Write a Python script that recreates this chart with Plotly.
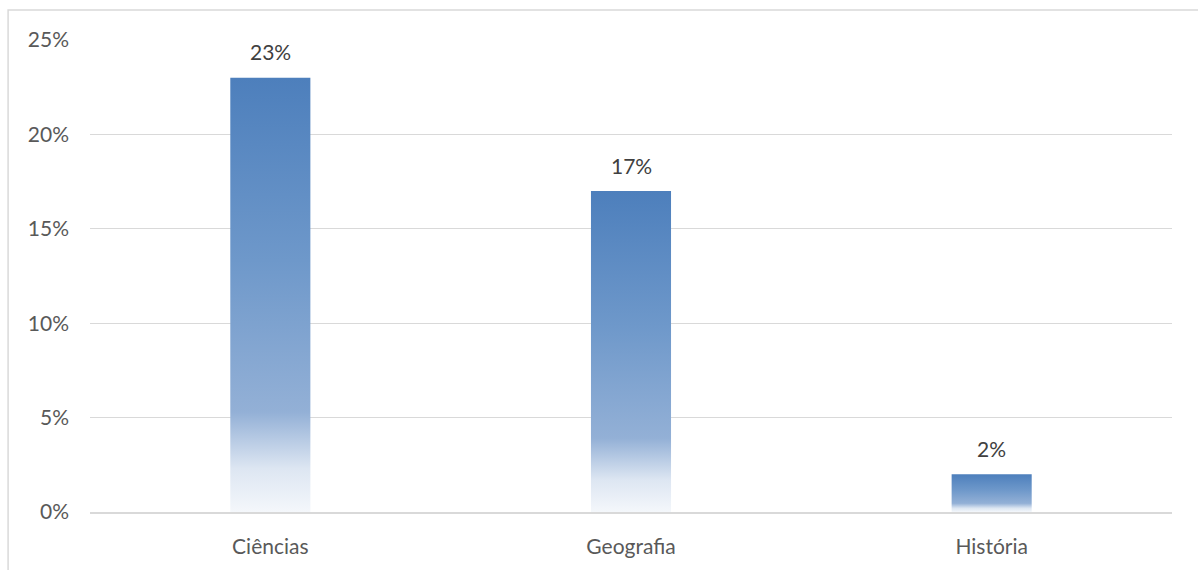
import plotly.graph_objects as go

categories = ["Ciências", "Geografia", "História"]
values = [0.23, 0.17, 0.02]
labels = ["23%", "17%", "2%"]
y_ticks = [0, 0.05, 0.10, 0.15, 0.20, 0.25]

BAR_HALF = 0.111
FONT = "Lato, 'Open Sans', sans-serif"
gradient = [[0.0, "#f4f7fb"], [0.1, "#dde6f2"], [0.23, "#93b0d6"],
            [0.58, "#6e98ca"], [1.0, "#4d7fbc"]]

fig = go.Figure()
for i, v in enumerate(values):
    fig.add_trace(go.Scatter(
        x=[i - BAR_HALF, i + BAR_HALF, i + BAR_HALF, i - BAR_HALF, i - BAR_HALF],
        y=[0, 0, v, v, 0],
        mode="lines", line=dict(width=0), fill="toself",
        fillgradient=dict(type="vertical", colorscale=gradient),
        hoverinfo="skip", showlegend=False,
    ))

annotations = [
    dict(x=i, y=v, xref="x", yref="y", text=t, showarrow=False,
         yshift=26, yanchor="middle",
         font=dict(family=FONT, size=21, color="#404040"))
    for i, (v, t) in enumerate(zip(values, labels))
]

fig.update_layout(
    width=1198, height=570,
    margin=dict(l=90, r=26, t=40, b=56),
    paper_bgcolor="white", plot_bgcolor="white",
    font=dict(family=FONT, size=21, color="#595959"),
    annotations=annotations,
    shapes=[dict(type="rect", xref="paper", yref="paper",
                 x0=-0.0757, x1=1.2, y0=-0.3, y1=1.0633,
                 line=dict(color="#d9d9d9", width=1.5), layer="below")],
)
fig.update_xaxes(
    range=[-0.5, 2.5], tickvals=list(range(len(categories))), ticktext=categories,
    showgrid=False, zeroline=False, showline=True, linecolor="#d9d9d9", linewidth=1.5,
    ticks="", ticklabelstandoff=15,
)
fig.update_yaxes(
    range=[0, 0.25], tickvals=y_ticks, tickformat=".0%",
    showgrid=True, gridcolor="#d9d9d9", gridwidth=1, zeroline=False,
    showline=False, ticks="", ticklabelstandoff=20,
)

fig.write_html("out.html")
